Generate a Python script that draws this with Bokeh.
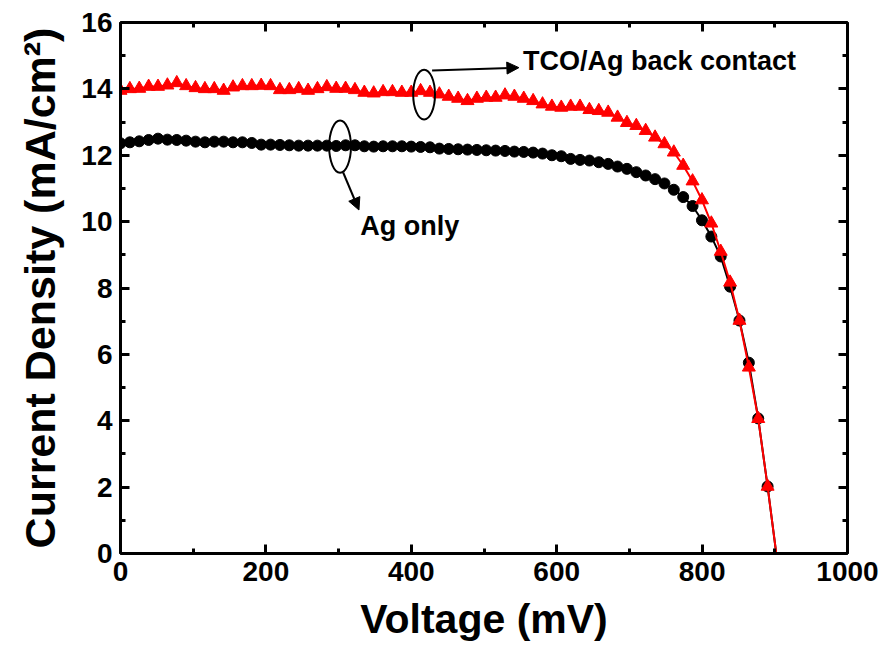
from bokeh.plotting import figure
from bokeh.models import (Range1d, LinearAxis, SingleIntervalTicker, Arrow, NormalHead,
                          Label, CustomJSTickFormatter)
from bokeh.embed import file_html
from bokeh.resources import INLINE

# ---------------- data ----------------
voltage_mV = [0.0, 12.9, 25.8, 38.7, 51.6, 64.5, 77.4, 90.3, 103.2, 116.1,
              129.0, 141.9, 154.8, 167.7, 180.6, 193.5, 206.4, 219.3, 232.2, 245.1,
              258.0, 270.9, 283.8, 296.7, 309.6, 322.5, 335.4, 348.3, 361.2, 374.1,
              387.0, 399.9, 412.8, 425.7, 438.6, 451.5, 464.4, 477.3, 490.2, 503.1,
              516.0, 528.9, 541.8, 554.7, 567.6, 580.5, 593.4, 606.3, 619.2, 632.1,
              645.0, 657.9, 670.8, 683.7, 696.6, 709.5, 722.4, 735.3, 748.2, 761.1,
              774.0, 786.9, 799.8, 812.7, 825.6, 838.5, 851.4, 864.3, 877.2, 890.1,
              915.0]

J_ag_only = [12.36, 12.39, 12.42, 12.46, 12.50, 12.47, 12.46, 12.44, 12.41, 12.39,
             12.41, 12.41, 12.39, 12.39, 12.37, 12.32, 12.32, 12.31, 12.30, 12.29,
             12.29, 12.29, 12.29, 12.28, 12.30, 12.30, 12.27, 12.26, 12.27, 12.27,
             12.27, 12.26, 12.25, 12.24, 12.20, 12.19, 12.18, 12.17, 12.16, 12.15,
             12.14, 12.13, 12.11, 12.10, 12.08, 12.05, 12.00, 11.97, 11.89, 11.86,
             11.84, 11.79, 11.74, 11.66, 11.59, 11.49, 11.39, 11.28, 11.15, 10.96,
             10.74, 10.47, 10.04, 9.55, 8.95, 8.04, 7.02, 5.75, 4.07, 2.02,
             -2.2]

J_tco_ag = [13.95, 14.00, 14.01, 14.07, 14.07, 14.11, 14.18, 14.09, 14.03, 14.00,
            14.00, 13.95, 14.05, 14.09, 14.09, 14.10, 14.09, 13.97, 13.97, 14.00,
            13.95, 14.00, 14.06, 14.01, 14.01, 13.97, 13.89, 13.87, 13.91, 13.91,
            13.89, 13.89, 13.94, 13.89, 13.84, 13.77, 13.71, 13.64, 13.71, 13.74,
            13.74, 13.81, 13.77, 13.71, 13.64, 13.54, 13.47, 13.44, 13.47, 13.47,
            13.37, 13.34, 13.29, 13.14, 12.98, 12.89, 12.74, 12.54, 12.34, 12.09,
            11.69, 11.22, 10.65, 9.95, 9.10, 8.17, 7.02, 5.61, 4.06, 2.02,
            -2.2]

label_texts = ["TCO/Ag back contact", "Ag only"]
label_x = [553.6, 329.7]
label_y = [14.85, 9.88]

ellipse_x = [417.6, 302.0]
ellipse_y = [13.83, 12.26]
ellipse_w = [30.0, 30.0]
ellipse_h = [1.5, 1.57]

arrow_x0 = [428.6, 306.3]
arrow_y0 = [14.55, 11.48]
arrow_x1 = [548.0, 328.0]
arrow_y1 = [14.64, 10.35]

FONT = "Liberation Sans"

p = figure(width=880, height=659, output_backend="svg", toolbar_location=None,
           x_range=Range1d(0, 1000), y_range=Range1d(0, 16),
           x_axis_location=None, y_axis_location=None,
           min_border_left=120, min_border_right=33, min_border_top=22, min_border_bottom=106)
p.grid.visible = False
p.outline_line_color = None
p.background_fill_color = "white"
p.border_fill_color = "white"


def make_axis(kind, show_labels):
    ax = LinearAxis()
    if kind == "x":
        ax.ticker = SingleIntervalTicker(interval=200, num_minor_ticks=2)
    else:
        ax.ticker = SingleIntervalTicker(interval=2, num_minor_ticks=2)
    ax.axis_line_width = 3
    ax.axis_line_color = "black"
    ax.major_tick_line_width = 3
    ax.minor_tick_line_width = 3
    ax.major_tick_in = 9
    ax.major_tick_out = 0
    ax.minor_tick_in = 5
    ax.minor_tick_out = 0
    ax.major_label_text_font = FONT
    ax.major_label_text_font_style = "bold"
    ax.major_label_text_font_size = "28px"
    ax.major_label_text_color = "black"
    ax.axis_label_text_font = FONT
    ax.axis_label_text_font_style = "bold"
    ax.axis_label_text_color = "black"
    if not show_labels:
        ax.formatter = CustomJSTickFormatter(code="return ''")
    return ax


xb = make_axis("x", True)
xb.axis_label = "Voltage (mV)"
xb.axis_label_text_font_size = "41px"
xb.axis_label_standoff = 12
xb.major_label_standoff = 8
p.add_layout(xb, "below")

yl = make_axis("y", True)
yl.axis_label = "Current Density (mA/cm²)"
yl.axis_label_text_font_size = "43px"
yl.axis_label_standoff = 14
yl.major_label_standoff = 8
p.add_layout(yl, "left")

p.add_layout(make_axis("x", False), "above")
p.add_layout(make_axis("y", False), "right")

# series
p.line(voltage_mV, J_ag_only, line_color="black", line_width=2)
p.scatter(voltage_mV, J_ag_only, marker="circle", size=11,
          fill_color="black", line_color="black")
p.line(voltage_mV, J_tco_ag, line_color="#ff0000", line_width=2)
p.scatter(voltage_mV, J_tco_ag, marker="triangle", size=13,
          fill_color="#ff0000", line_color="#ff0000")

# annotations
p.ellipse(x=ellipse_x, y=ellipse_y, width=ellipse_w, height=ellipse_h,
          fill_color=None, line_color="black", line_width=2)
for i in range(len(arrow_x0)):
    p.add_layout(Arrow(end=NormalHead(size=12, fill_color="black", line_color="black"),
                       x_start=arrow_x0[i], y_start=arrow_y0[i],
                       x_end=arrow_x1[i], y_end=arrow_y1[i],
                       line_color="black", line_width=2))
for i in range(len(label_texts)):
    p.add_layout(Label(x=label_x[i], y=label_y[i], text=label_texts[i],
                       text_font=FONT, text_font_style="bold", text_font_size="27px",
                       text_color="black", text_align="left", text_baseline="middle"))

open("out.html", "w").write(file_html(p, INLINE))
